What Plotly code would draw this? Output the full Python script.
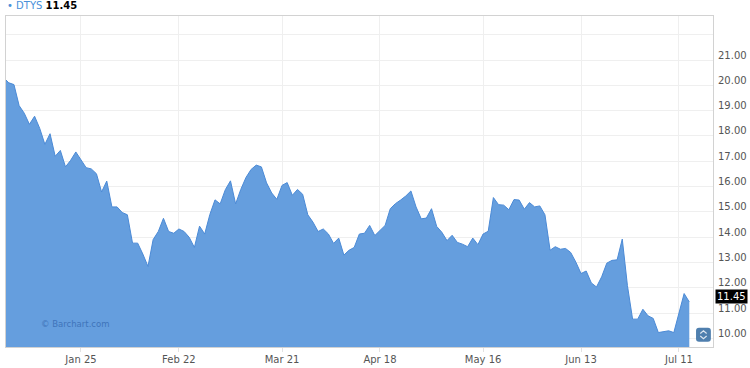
import pandas as pd
import plotly.graph_objects as go

# ---- data ----
holidays = ["2016-01-01", "2016-01-18", "2016-02-15", "2016-03-25", "2016-05-30", "2016-07-04"]
dates = [d.strftime("%Y-%m-%d") for d in
         pd.bdate_range("2015-12-31", "2016-07-13", freq="C", holidays=holidays)]

values = [
    20.30,
    20.10, 20.03, 19.20, 18.90, 18.46, 18.78, 18.30, 17.67, 18.09, 17.20,
    17.43, 16.78, 17.04, 17.37, 17.07, 16.75, 16.70, 16.51, 15.79, 16.22,
    15.20, 15.20, 14.98, 14.89, 13.77, 13.77, 13.34, 12.85, 13.91, 14.23,
    14.75, 14.23, 14.16, 14.33, 14.23, 14.00, 13.60, 14.44, 14.13, 14.90,
    15.48, 15.32, 15.88, 16.23, 15.32, 15.89, 16.36, 16.68, 16.85, 16.78,
    16.15, 15.75, 15.50, 16.05, 16.16, 15.66, 15.89, 15.70, 14.89, 14.60,
    14.23, 14.33, 14.13, 13.76, 13.97, 13.30, 13.49, 13.60, 14.13, 14.16,
    14.47, 14.07, 14.27, 14.47, 15.13, 15.33, 15.47, 15.63, 15.83, 15.20,
    14.73, 14.76, 15.13, 14.43, 14.20, 13.87, 14.08, 13.80, 13.73, 13.63,
    13.97, 13.71, 14.13, 14.24, 15.57, 15.29, 15.27, 15.09, 15.49, 15.47,
    15.11, 15.37, 15.20, 15.24, 14.89, 13.49, 13.63, 13.53, 13.56, 13.40,
    13.02, 12.57, 12.67, 12.20, 12.04, 12.44, 12.98, 13.09, 13.11, 13.93,
    12.10, 10.77, 10.77, 11.16, 10.90, 10.80, 10.24, 10.28, 10.31, 10.24,
    11.00, 11.78, 11.45,
]
assert len(dates) == len(values), (len(dates), len(values))

symbol = "DTYS"
last_value = values[-1]

x_tick_vals = ["2016-01-25", "2016-02-22", "2016-03-21", "2016-04-18",
               "2016-05-16", "2016-06-13", "2016-07-11"]
x_tick_text = ["Jan 25", "Feb 22", "Mar 21", "Apr 18", "May 16", "Jun 13", "Jul 11"]
y_tick_vals = [10, 11, 12, 13, 14, 15, 16, 17, 18, 19, 20, 21, 22]
y_tick_text = [f"{v:.2f}" for v in y_tick_vals[:-1]] + [""]

# ---- style ----
FONT = "DejaVu Sans"
FILL = "#659EDE"
LINE = "#4B8AD6"
GRID = "#EFEFEF"
BORDER = "#D2D2D2"
LABEL = "#555555"

fig = go.Figure()
fig.add_trace(go.Scatter(
    x=dates, y=values, mode="lines", fill="tozeroy",
    fillcolor=FILL, line=dict(color=LINE, width=1),
    hoverinfo="x+y", showlegend=False,
))

# scroll button (rounded square) in paper coords
bx0, bx1, by0, by1, rx, ry = 0.976, 0.997, 0.016, 0.058, 0.0042, 0.009
button_path = (f"M {bx0+rx},{by0} L {bx1-rx},{by0} Q {bx1},{by0} {bx1},{by0+ry} "
               f"L {bx1},{by1-ry} Q {bx1},{by1} {bx1-rx},{by1} L {bx0+rx},{by1} "
               f"Q {bx0},{by1} {bx0},{by1-ry} L {bx0},{by0+ry} Q {bx0},{by0} {bx0+rx},{by0} Z")
cx = (bx0 + bx1) / 2
shapes = [
    dict(type="path", xref="paper", yref="paper", path=button_path,
         fillcolor="#4F7FAE", line=dict(width=0), layer="above"),
    dict(type="path", xref="paper", yref="paper",
         path=f"M {cx-0.0045},{0.041} L {cx},{0.049} L {cx+0.0045},{0.041}",
         line=dict(color="#DDE6F0", width=1.2), layer="above"),
    dict(type="path", xref="paper", yref="paper",
         path=f"M {cx-0.0045},{0.033} L {cx},{0.025} L {cx+0.0045},{0.033}",
         line=dict(color="#DDE6F0", width=1.2), layer="above"),
]

annotations = [
    dict(xref="paper", yref="paper", x=-0.0015, y=1.031, xanchor="left", yanchor="middle",
         showarrow=False, font=dict(family=FONT, size=10, color="#000000"),
         text=f"<span style='color:#4A90D9'>• {symbol}</span> <b>{last_value:.2f}</b>"),
    dict(xref="paper", yref="paper", x=0.046, y=0.0695, xanchor="left", yanchor="middle",
         showarrow=False, font=dict(family=FONT, size=8.5, color="#3F74BA"),
         text="© Barchart.com"),
    dict(xref="paper", yref="y", x=1, y=last_value, xanchor="left", yanchor="middle",
         xshift=2, yshift=5, showarrow=False, bgcolor="#000000", borderpad=1,
         font=dict(family=FONT, size=10, color="#FFFFFF"), text=f"{last_value:.2f}"),
]

fig.update_layout(
    width=750, height=368,
    margin=dict(l=6, r=37, t=16, b=21, pad=0),
    paper_bgcolor="white", plot_bgcolor="white",
    font=dict(family=FONT, size=10, color=LABEL),
    shapes=shapes, annotations=annotations,
    xaxis=dict(
        type="category", range=[0.457, 137.6], automargin=False,
        tickmode="array", tickvals=x_tick_vals, ticktext=x_tick_text,
        showgrid=True, gridcolor=GRID, gridwidth=1,
        ticks="outside", ticklen=4, tickcolor="#E2E2E2", ticklabelstandoff=-1,
        showline=True, linecolor=BORDER, linewidth=1, mirror=True,
        tickfont=dict(family=FONT, size=10, color=LABEL),
        zeroline=False, fixedrange=True,
    ),
    yaxis=dict(
        range=[9.67, 22.737], side="right", automargin=False,
        tickmode="array", tickvals=y_tick_vals, ticktext=y_tick_text,
        showgrid=True, gridcolor=GRID, gridwidth=1,
        ticks="", ticklabelshift=-5, ticklabelstandoff=2,
        showline=True, linecolor=BORDER, linewidth=1, mirror=True,
        tickfont=dict(family=FONT, size=10, color=LABEL),
        zeroline=False, fixedrange=True,
    ),
)

fig.write_html("out.html")
